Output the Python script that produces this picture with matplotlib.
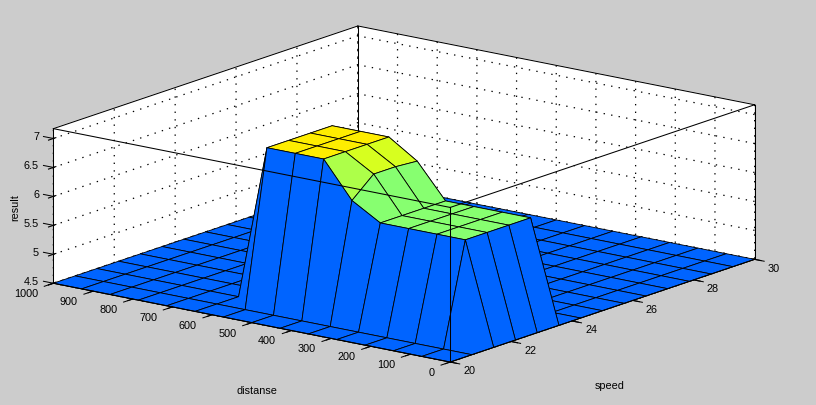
import numpy as np
import matplotlib
matplotlib.use("Agg")
import matplotlib.pyplot as plt
from matplotlib.colors import Normalize

plt.rcParams['font.family'] = ['Liberation Sans', 'DejaVu Sans']
plt.rcParams['grid.color'] = 'black'
plt.rcParams['grid.linewidth'] = 0.9
plt.rcParams['grid.linestyle'] = (0, (1.1, 5))

# 15 x 15 grid, as the surface viewer samples it
speed = np.linspace(20, 30, 15)
distance = np.linspace(0, 1000, 15)

# result per distance row (front to back), speed column left to right
F = 4.5
result = [
    [F, F, F, F, F, F, F, F, F, F, F, F, F, F, F],
    [F, F, 6.26, 6.26, 6.26, 6.26, F, F, F, F, F, F, F, F, F],
    [F, F, 6.26, 6.26, 6.26, 6.26, F, F, F, F, F, F, F, F, F],
    [F, F, 6.26, 6.26, 6.26, 6.26, F, F, F, F, F, F, F, F, F],
    [F, F, 6.26, 6.26, 6.26, 6.26, F, F, F, F, F, F, F, F, F],
    [F, F, 6.55, 6.88, 6.88, 6.85, F, F, F, F, F, F, F, F, F],
    [F, F, 7.17, 7.17, 7.17, 7.17, F, F, F, F, F, F, F, F, F],
    [F, F, 7.17, 7.17, 7.17, 7.17, F, F, F, F, F, F, F, F, F],
    [F, F, 7.17, 7.17, 7.17, 7.17, F, F, F, F, F, F, F, F, F],
    [F, F, F, F, F, F, F, F, F, F, F, F, F, F, F],
    [F, F, F, F, F, F, F, F, F, F, F, F, F, F, F],
    [F, F, F, F, F, F, F, F, F, F, F, F, F, F, F],
    [F, F, F, F, F, F, F, F, F, F, F, F, F, F, F],
    [F, F, F, F, F, F, F, F, F, F, F, F, F, F, F],
    [F, F, F, F, F, F, F, F, F, F, F, F, F, F, F],
]

speed_ticks = [20, 22, 24, 26, 28, 30]
distance_ticks = [0, 100, 200, 300, 400, 500, 600, 700, 800, 900, 1000]
result_ticks = [4.5, 5, 5.5, 6, 6.5, 7]
result_tick_labels = ['4.5', '5', '5.5', '6', '6.5', '7']

W, H = 816, 406
BG = '#cccccc'
fig = plt.figure(figsize=(W / 100, H / 100), dpi=100, facecolor=BG)

# axes is bigger than the figure so nothing gets clipped to it, zoom makes up for it
side = 800
cx, cy = 404, 406 - 195
ax = fig.add_axes([(cx - 0.5135 * side) / W, (cy - 0.5135 * side) / H, side / W, side / H],
                  projection='3d', proj_type='ortho', computed_zorder=False)
ax.patch.set_visible(False)
ax.view_init(elev=15, azim=-142.5)
ax.set_box_aspect((1, 1, 0.32), zoom=704 / side)
ax.set_xlim(20, 30)
ax.set_ylim(0, 1000)
ax.set_zlim(4.5, 7.17)

X, Y = np.meshgrid(speed, distance)
Z = np.array(result)

# flat faces take the colour of their lowest index corner
norm = Normalize(vmin=3.12, vmax=9.255)
colors = plt.cm.jet(norm(Z))
surf = ax.plot_surface(X, Y, Z, facecolors=colors, rstride=1, cstride=1,
                       shade=False, linewidth=0.6, antialiased=True, zorder=2)
surf.set_edgecolor('black')

# box edges, back ones go behind the surface
x0, x1, y0, y1, z0, z1 = 20, 30, 0, 1000, 4.5, 7.17
back = [([x0, x1], [y1, y1], [z1, z1]), ([x1, x1], [y0, y1], [z1, z1]),
        ([x1, x1], [y1, y1], [z0, z1])]
front = [([x0, x0], [y0, y1], [z1, z1]), ([x0, x1], [y0, y0], [z1, z1]),
         ([x0, x0], [y0, y0], [z0, z1]), ([x0, x0], [y1, y1], [z0, z1]),
         ([x1, x1], [y0, y0], [z0, z1]), ([x0, x1], [y0, y0], [z0, z0]),
         ([x0, x0], [y0, y1], [z0, z0])]
for e in back:
    ax.plot(*e, color='black', lw=0.75, zorder=1)
for e in front:
    ax.plot(*e, color='black', lw=0.75, zorder=3)

ax.set_xticks(speed_ticks)
ax.set_yticks(distance_ticks)
ax.set_zticks(result_ticks)
ax.set_zticklabels(result_tick_labels)
ax.tick_params(axis='both', labelsize=7.8, colors='black')
ax.tick_params(axis='x', pad=6.43)
ax.tick_params(axis='y', pad=7.11)
ax.tick_params(axis='z', pad=-1.86)

for axis in (ax.xaxis, ax.yaxis, ax.zaxis):
    axis.set_pane_color((1, 1, 1, 1))
    axis.pane.set_edgecolor('white')
    axis.line.set_linewidth(0.72)
    # the native tick marks point the wrong way on z, drawn by hand below
    for tick in axis.get_major_ticks():
        tick.tick1line.set_visible(False)

ax.zaxis.set_ticks_position('upper')
ax.zaxis.set_label_position('upper')

for lab in ax.get_xticklabels():
    lab.set_va('baseline')
for lab in ax.get_yticklabels():
    lab.set_ha('right')
    lab.set_va('baseline')
for lab in ax.get_zticklabels():
    lab.set_ha('right')
    lab.set_va('baseline')

# short outward tick marks
for s in speed_ticks:
    ax.plot([s, s], [y0, y0 - 24], [z0, z0], color='black', lw=0.72)
for d in distance_ticks:
    ax.plot([x0, x0 - 0.3], [d, d], [z0, z0], color='black', lw=0.72)
for r in result_ticks:
    ax.plot([x0, x0], [y1, y1 + 25], [r, r], color='black', lw=0.72)

fig.text(257 / W, 1 - 391 / H, 'distanse', fontsize=7.8, ha='center', va='center')
fig.text(610 / W, 1 - 386 / H, 'speed', fontsize=7.8, ha='center', va='center')
fig.text(15 / W, 1 - 208 / H, 'result', fontsize=7.8, rotation=90, ha='center', va='center')

fig.savefig('out.png', dpi=100, facecolor=BG)
